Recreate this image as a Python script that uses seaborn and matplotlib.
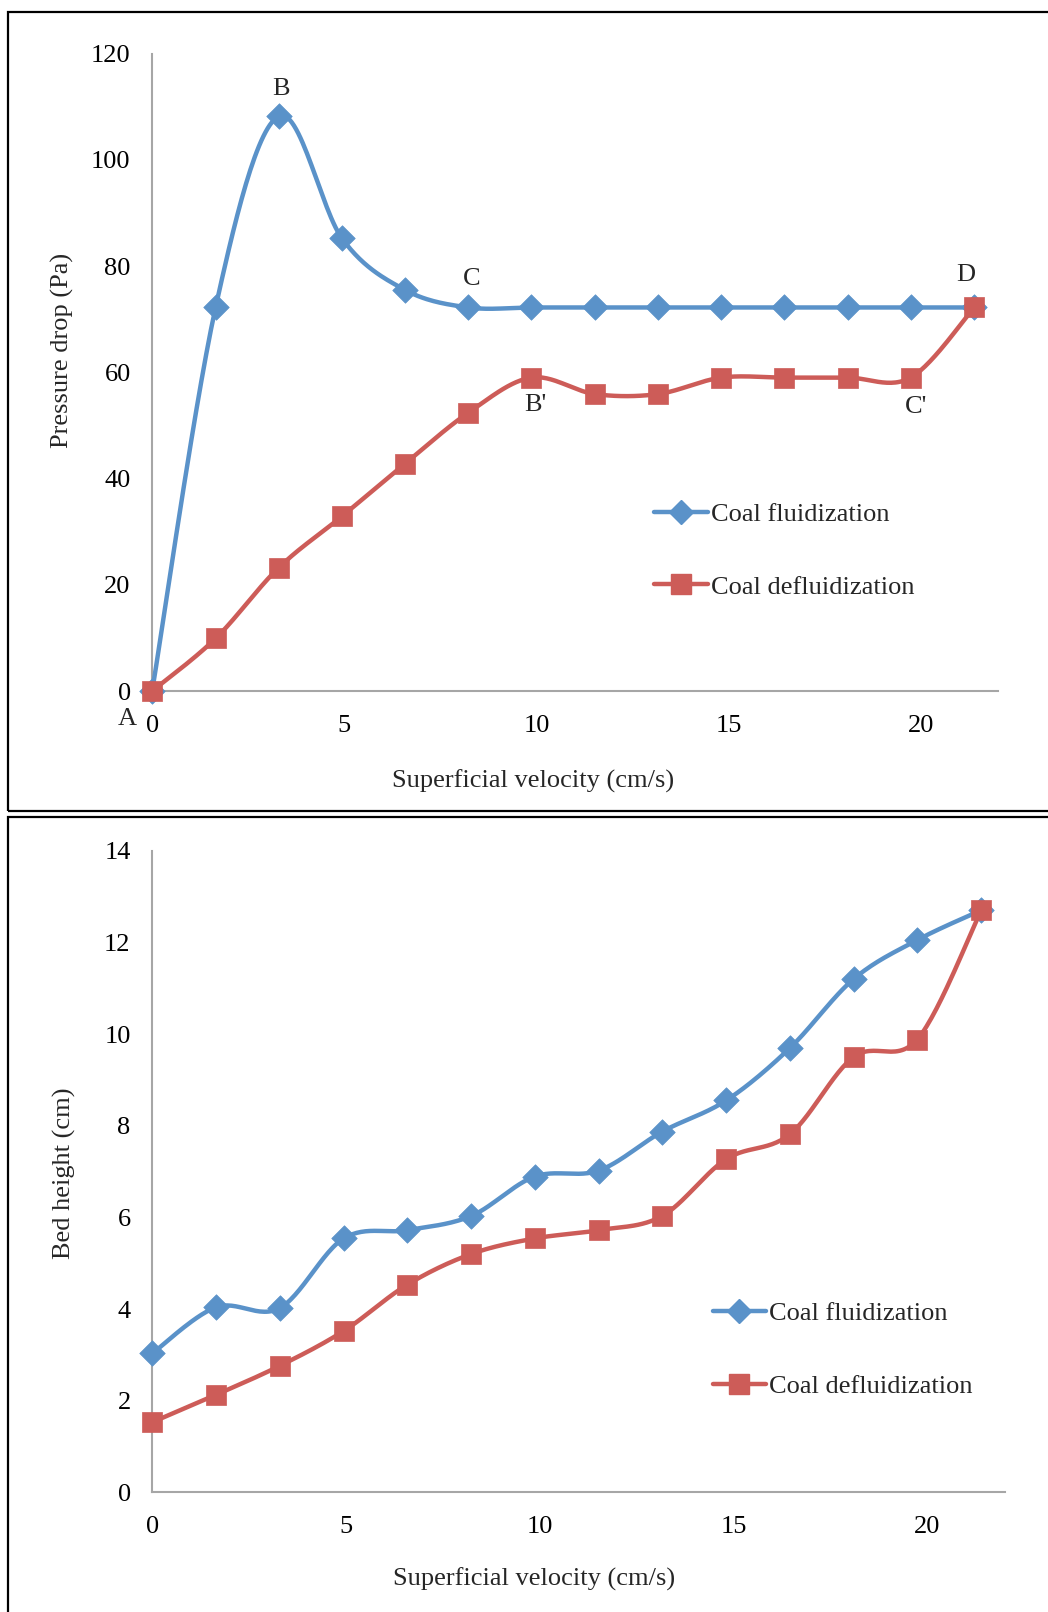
import numpy as np
import pandas as pd
import matplotlib
matplotlib.use("Agg")
import matplotlib.pyplot as plt
from matplotlib.lines import Line2D
from matplotlib.patches import Rectangle
import seaborn as sns

# ---------------- data ----------------
velocity = [0, 1.65, 3.29, 4.94, 6.58, 8.23, 9.87, 11.52, 13.16, 14.81, 16.45, 18.10, 19.74, 21.39]

dp_fluid = [0, 72.2, 108.2, 85.2, 75.5, 72.2, 72.2, 72.2, 72.2, 72.2, 72.2, 72.2, 72.2, 72.2]
dp_defluid = [0, 9.9, 23.2, 32.9, 42.8, 52.4, 59.0, 55.9, 55.9, 59.0, 59.0, 59.0, 59.0, 72.2]

bh_fluid = [3.03, 4.04, 4.02, 5.54, 5.72, 6.03, 6.89, 7.02, 7.87, 8.55, 9.69, 11.2, 12.05, 12.7]
bh_defluid = [1.53, 2.13, 2.76, 3.52, 4.53, 5.2, 5.54, 5.72, 6.03, 7.27, 7.81, 9.5, 9.88, 12.7]

series_names = ["Coal fluidization", "Coal defluidization"]
x_ticks = [0, 5, 10, 15, 20]
top_yticks = [0, 20, 40, 60, 80, 100, 120]
bot_yticks = [0, 2, 4, 6, 8, 10, 12, 14]
point_labels = ["A", "B", "C", "D", "B'", "C'"]
point_label_pos = [(-0.64, -5.3), (3.34, 113.4), (8.31, 77.6), (21.17, 78.4), (9.97, 53.8), (19.87, 53.4)]

BLUE = "#5A92C9"
RED = "#CD5C58"
AXIS_GRAY = "#A6A6A6"

sns.set_theme(style="white")
plt.rcParams["font.family"] = ["Liberation Serif", "DejaVu Serif"]
plt.rcParams["axes.unicode_minus"] = False

FS = 19


def smooth_path(x, y, n=30):
    """Excel-like smoothed line (cubic Bezier, Catmull-Rom control points)."""
    x = np.asarray(x, float)
    y = np.asarray(y, float)
    px = np.concatenate([[x[0]], x, [x[-1]]])
    py = np.concatenate([[y[0]], y, [y[-1]]])
    xs, ys = [], []
    t = np.linspace(0, 1, n)
    for i in range(1, len(px) - 2):
        p0 = np.array([px[i - 1], py[i - 1]])
        p1 = np.array([px[i], py[i]])
        p2 = np.array([px[i + 1], py[i + 1]])
        p3 = np.array([px[i + 2], py[i + 2]])
        c1 = p1 + (p2 - p0) / 6.0
        c2 = p2 - (p3 - p1) / 6.0
        b = ((1 - t) ** 3)[:, None] * p1 + (3 * (1 - t) ** 2 * t)[:, None] * c1 \
            + (3 * (1 - t) * t ** 2)[:, None] * c2 + (t ** 3)[:, None] * p2
        xs.extend(b[:, 0])
        ys.extend(b[:, 1])
    return pd.DataFrame({"x": xs, "y": ys})


W, H = 1048, 1612
fig = plt.figure(figsize=(W / 100, H / 100), dpi=100)

ax1 = fig.add_axes([0.1452, 0.5713, 0.8067, 0.3955])
ax2 = fig.add_axes([0.1452, 0.0742, 0.8136, 0.3981])


def draw(ax, yf, yd, ylim, yticks, ylabel, xlab_pos, ylab_pos, leg_anchor):
    for yvals, col, mk, ms in [(yf, BLUE, "D", 13), (yd, RED, "s", 14)]:
        sm = smooth_path(velocity, yvals)
        sns.lineplot(data=sm, x="x", y="y", ax=ax, color=col, lw=3.2, sort=False,
                     estimator=None, clip_on=False, zorder=3)
        df = pd.DataFrame({"x": velocity, "y": yvals})
        sns.scatterplot(data=df, x="x", y="y", ax=ax, color=col, marker=mk, s=ms ** 2,
                        edgecolor=col, linewidth=0.5, clip_on=False, zorder=4)
    ax.set_xlim(0, 22)
    ax.set_ylim(*ylim)
    ax.set_xticks(x_ticks)
    ax.set_yticks(yticks)
    ax.tick_params(axis="both", length=0, labelsize=FS, colors="black")
    ax.tick_params(axis="y", pad=15.5)
    ax.tick_params(axis="x", pad=17)
    for s in ["top", "right"]:
        ax.spines[s].set_visible(False)
    for s in ["left", "bottom"]:
        ax.spines[s].set_color(AXIS_GRAY)
        ax.spines[s].set_linewidth(1.5)
    ax.set_xlabel("Superficial velocity (cm/s)", fontsize=FS)
    ax.set_ylabel(ylabel, fontsize=FS)
    ax.xaxis.set_label_coords(*xlab_pos)
    ax.yaxis.set_label_coords(*ylab_pos)
    ax.grid(False)
    handles = [
        Line2D([], [], color=BLUE, lw=3.2, marker="D", markersize=12, markeredgecolor=BLUE),
        Line2D([], [], color=RED, lw=3.2, marker="s", markersize=14, markeredgecolor=RED),
    ]
    leg = ax.legend(handles, series_names, loc="center left", bbox_to_anchor=leg_anchor,
                    frameon=False, fontsize=FS, handlelength=2.03, handletextpad=0.12,
                    labelspacing=1.87, borderpad=0, borderaxespad=0)
    return leg


draw(ax1, dp_fluid, dp_defluid, (0, 120), top_yticks, "Pressure drop (Pa)",
     (0.45, -0.1225), (-0.093, 0.535), (0.5936, 0.2204))
draw(ax2, bh_fluid, bh_defluid, (0, 14), bot_yticks, "Bed height (cm)",
     (0.4476, -0.117), (-0.0895, 0.498), (0.6574, 0.2220))

for lab, (lx, ly) in zip(point_labels, point_label_pos):
    ax1.text(lx, ly, lab, fontsize=FS, ha="center", va="center", clip_on=False)

# panel borders
fig.add_artist(Rectangle((8 / W, 1 - 811 / H), 1.2, (811 - 12) / H, transform=fig.transFigure,
                         fill=False, edgecolor="black", lw=1.6, clip_on=False))
fig.add_artist(Rectangle((8 / W, -0.1), 1.2, 0.1 + (1612 - 817) / H, transform=fig.transFigure,
                         fill=False, edgecolor="black", lw=1.6, clip_on=False))

fig.savefig("out.png", dpi=100)
